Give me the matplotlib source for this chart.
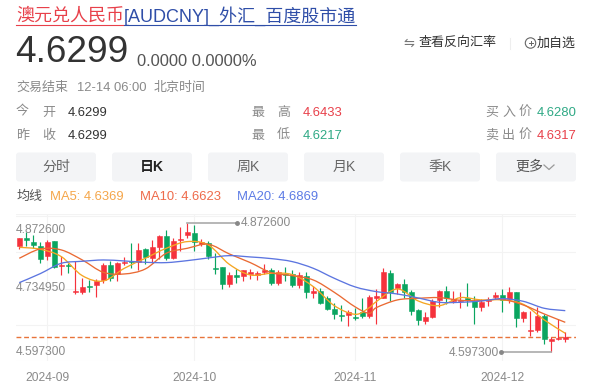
import matplotlib.pyplot as plt
import matplotlib.patches as patches
from matplotlib.path import Path

plt.rcParams["font.family"] = ["Liberation Sans", "Noto Sans CJK SC", "DejaVu Sans"]

# 日K data
open_ = [4.8232, 4.8394, 4.8324, 4.8232, 4.8026, 4.8338, 4.7800, 4.7828, 4.7247, 4.7247,
         4.7382, 4.7396, 4.7509, 4.7828, 4.7630, 4.7863, 4.7913, 4.7899, 4.8168, 4.7970,
         4.8217, 4.8451, 4.7970, 4.8352, 4.8465, 4.8501, 4.8274, 4.8295, 4.7771, 4.7778,
         4.7432, 4.7616, 4.7601, 4.7644, 4.7616, 4.7672, 4.7722, 4.7446, 4.7630, 4.7630,
         4.7403, 4.7594, 4.7240, 4.7269, 4.7120, 4.6893, 4.6766, 4.6766, 4.6716, 4.6837,
         4.6752, 4.7134, 4.7134, 4.7651, 4.7332, 4.7417, 4.7247, 4.6872, 4.6639, 4.6724,
         4.7085, 4.7276, 4.7063, 4.7063, 4.7120, 4.7063, 4.6943, 4.7063, 4.7155, 4.7191,
         4.7106, 4.7247, 4.6709, 4.6433, 4.6454, 4.6752, 4.6221, 4.6249, 4.6263]
close = [4.8394, 4.8359, 4.8253, 4.7963, 4.8324, 4.7793, 4.7828, 4.7814, 4.7276, 4.7368,
         4.7354, 4.7495, 4.7828, 4.7545, 4.7878, 4.7899, 4.7885, 4.8154, 4.7991, 4.8203,
         4.8451, 4.7984, 4.8338, 4.8380, 4.8522, 4.8324, 4.8309, 4.8019, 4.7750, 4.7424,
         4.7623, 4.7573, 4.7715, 4.7672, 4.7658, 4.7722, 4.7453, 4.7686, 4.7616, 4.7403,
         4.7616, 4.7262, 4.7269, 4.7014, 4.6901, 4.6780, 4.6745, 4.6837, 4.6695, 4.6752,
         4.7155, 4.7162, 4.7686, 4.7247, 4.7432, 4.7247, 4.6851, 4.6660, 4.6724, 4.7063,
         4.7276, 4.7120, 4.7106, 4.7092, 4.7085, 4.6943, 4.7035, 4.7085, 4.7184, 4.7092,
         4.7247, 4.6709, 4.6837, 4.6454, 4.6738, 4.6249, 4.6249, 4.6285, 4.6299]
high = [4.8409, 4.8522, 4.8465, 4.8309, 4.8352, 4.8338, 4.8026, 4.7863, 4.7913, 4.7545,
        4.7509, 4.7531, 4.7863, 4.7913, 4.7899, 4.8005, 4.8288, 4.8302, 4.8196, 4.8359,
        4.8465, 4.8571, 4.8394, 4.8628, 4.8726, 4.8673, 4.8380, 4.8338, 4.8076, 4.7778,
        4.7686, 4.7736, 4.7722, 4.7736, 4.7708, 4.7849, 4.7757, 4.7722, 4.7793, 4.7722,
        4.7686, 4.7686, 4.7389, 4.7332, 4.7170, 4.7014, 4.6978, 4.6872, 4.6908, 4.7120,
        4.7191, 4.7318, 4.7757, 4.7722, 4.7453, 4.7531, 4.7290, 4.6893, 4.6837, 4.7099,
        4.7297, 4.7375, 4.7276, 4.7247, 4.7453, 4.7170, 4.7099, 4.7155, 4.7262, 4.7311,
        4.7361, 4.7262, 4.6858, 4.6851, 4.6943, 4.6780, 4.6306, 4.6681, 4.6412]
low = [4.8161, 4.8239, 4.8182, 4.7878, 4.7934, 4.7771, 4.7616, 4.7651, 4.7205, 4.7205,
       4.7262, 4.7148, 4.7439, 4.7495, 4.7495, 4.7828, 4.7757, 4.7722, 4.7842, 4.7863,
       4.7955, 4.7934, 4.7955, 4.8125, 4.8394, 4.8125, 4.8239, 4.7948, 4.7630, 4.7325,
       4.7368, 4.7439, 4.7488, 4.7524, 4.7502, 4.7630, 4.7403, 4.7403, 4.7495, 4.7368,
       4.7347, 4.7134, 4.7134, 4.6993, 4.6872, 4.6674, 4.6639, 4.6532, 4.6660, 4.6709,
       4.6695, 4.6575, 4.7120, 4.7070, 4.7205, 4.7134, 4.6766, 4.6554, 4.6582, 4.6695,
       4.6943, 4.6993, 4.7014, 4.6908, 4.6964, 4.6575, 4.6858, 4.6957, 4.7106, 4.6837,
       4.7028, 4.6518, 4.6624, 4.6327, 4.6412, 4.6150, 4.5973, 4.6228, 4.6200]

# moving averages, read at every third candle or so
ma5_idx = [0, 3, 6, 9, 12, 15, 18, 21, 24, 27, 30, 33, 36, 39, 42, 45, 48, 50, 51, 54, 57, 60, 63, 66, 69, 72, 75, 78]
ma5 = [4.8203, 4.8161, 4.8005, 4.7601, 4.7488, 4.7757, 4.7970, 4.8182, 4.8324, 4.8253,
       4.7842, 4.7616, 4.7651, 4.7623, 4.7368, 4.6964, 4.6780, 4.6922, 4.7049, 4.7318,
       4.7063, 4.6964, 4.7134, 4.7085, 4.7085, 4.6993, 4.6660, 4.6377]
ma10_idx = [0, 3, 6, 9, 12, 15, 18, 21, 24, 27, 30, 33, 36, 39, 42, 45, 48, 50, 51, 54, 57, 60, 63, 66, 69, 72, 75, 78]
ma10 = [4.7970, 4.8168, 4.8147, 4.7934, 4.7672, 4.7637, 4.7743, 4.8076, 4.8182, 4.8267,
        4.8062, 4.7878, 4.7665, 4.7601, 4.7509, 4.7247, 4.6936, 4.6801, 4.6922, 4.7085,
        4.7120, 4.7134, 4.7078, 4.7070, 4.7099, 4.6978, 4.6787, 4.6610]
ma20_idx = [0, 3, 6, 9, 12, 15, 18, 21, 24, 27, 30, 33, 36, 39, 42, 45, 48, 51, 54, 57, 60, 63, 66, 69, 72, 75, 78]
ma20 = [4.7453, 4.7644, 4.7863, 4.7906, 4.7934, 4.7913, 4.7885, 4.7878, 4.7920, 4.7977,
        4.8026, 4.7998, 4.7963, 4.7899, 4.7757, 4.7545, 4.7361, 4.7262, 4.7212, 4.7127,
        4.7035, 4.7035, 4.7063, 4.7113, 4.7056, 4.6908, 4.6858]

date_idx = [4, 25, 48, 69]
date_labels = ["2024-09", "2024-10", "2024-11", "2024-12"]
y_labels = [4.8726, 4.73495, 4.5973]
last_price = 4.6299

RED = "#f5323c"
GREEN = "#0aa560"
GRAY = "#8a8a8a"

fig = plt.figure(figsize=(5.99, 3.90), dpi=100)

# page part, in pixel coordinates
page = fig.add_axes([0, 0, 1, 1])
page.set_xlim(0, 599)
page.set_ylim(390, 0)
page.axis("off")


def label(x, y, s, px=13, color="#333333", ha="left", **kw):
    page.text(x, y + 2.2, s, fontsize=px * 0.72, color=color, ha=ha, va="center", **kw)


def smooth_line(ax, xs, ys, color):
    # curve through the read points, the site draws smoothed lines too
    verts = [(xs[0], ys[0])]
    codes = [Path.MOVETO]
    for k in range(len(xs) - 1):
        x0, y0 = (xs[k - 1], ys[k - 1]) if k > 0 else (xs[k], ys[k])
        x1, y1 = xs[k], ys[k]
        x2, y2 = xs[k + 1], ys[k + 1]
        x3, y3 = (xs[k + 2], ys[k + 2]) if k + 2 < len(xs) else (x2, y2)
        verts.append((x1 + (x2 - x0) / 6, y1 + (y2 - y0) / 6))
        verts.append((x2 - (x3 - x1) / 6, y2 - (y3 - y1) / 6))
        verts.append((x2, y2))
        codes += [Path.CURVE4, Path.CURVE4, Path.CURVE4]
    ax.add_patch(patches.PathPatch(Path(verts, codes), fill=False, edgecolor=color, lw=0.95, zorder=4))


# 标题
label(16, 14, "澳元兑人民币", 18, "#e8404a")
label(124, 14, "[AUDCNY]_外汇_百度股市通", 18, "#2f4ea8")
page.plot([16, 123], [24.5, 24.5], color="#e8404a", lw=0.8)
page.plot([124, 356], [24.5, 24.5], color="#2f4ea8", lw=0.8)

label(15, 50, "4.6299", 37, "#333333")
label(137, 59.5, "0.0000 0.0000%", 16.5, "#555555")

label(403, 41, "⇋", 13, "#777777", family=["DejaVu Sans"])
label(419, 41, "查看反向汇率", 13, "#333333")
page.plot([510, 510], [38, 49], color="#eeeeee", lw=0.8)
page.add_patch(patches.Circle((530.5, 43), 5.2, fill=False, edgecolor="#666666", lw=0.8))
page.plot([528.5, 532.5], [43, 43], color="#666666", lw=0.7)
page.plot([530.5, 530.5], [41, 45], color="#666666", lw=0.7)
label(537, 41, "加自选", 13, "#333333")

label(16, 85.5, "交易结束", 13, GRAY)
label(77, 85.5, "12-14 06:00", 13, GRAY)
label(154, 85.5, "北京时间", 13, GRAY)

label(16, 110.5, "今", 13, GRAY)
label(42, 110.5, "开", 13, GRAY)
label(68, 110.5, "4.6299", 13, "#333333")
label(16, 133.5, "昨", 13, GRAY)
label(42, 133.5, "收", 13, GRAY)
label(68, 133.5, "4.6299", 13, "#333333")
label(251, 110.5, "最", 13, GRAY)
label(277, 110.5, "高", 13, GRAY)
label(303, 110.5, "4.6433", 13, "#e8404a")
label(251, 133.5, "最", 13, GRAY)
label(277, 133.5, "低", 13, GRAY)
label(303, 133.5, "4.6217", 13, "#2fa985")
label(485, 110.5, "买", 13, GRAY)
label(502, 110.5, "入", 13, GRAY)
label(519, 110.5, "价", 13, GRAY)
label(537, 110.5, "4.6280", 13, "#2fa985")
label(485, 133.5, "卖", 13, GRAY)
label(502, 133.5, "出", 13, GRAY)
label(519, 133.5, "价", 13, GRAY)
label(537, 133.5, "4.6317", 13, "#e8404a")

# 周期按钮
buttons = ["分时", "日K", "周K", "月K", "季K", "更多"]
for n, name in enumerate(buttons):
    x = 16 + 96 * n
    page.add_patch(patches.FancyBboxPatch(
        (x + 3, 155.5), 74, 23,
        boxstyle="round,pad=3", facecolor="#f3f4f6", edgecolor="none"))
    if name == "日K":
        label(x + 40, 165, name, 14, "#222222", ha="center", fontweight="bold")
    elif name == "更多":
        label(x + 33, 165, name, 14, "#555555", ha="center")
    else:
        label(x + 40, 165, name, 14, "#666666", ha="center")
page.plot([544, 549, 554], [165, 169.5, 165], color="#999999", lw=0.9)

label(16, 195, "均线", 13, "#555555")
label(50, 195, "MA5: 4.6369", 13, "#f5a64a")
label(140, 195, "MA10: 4.6623", 13, "#ee6a4a")
label(237, 195, "MA20: 4.6869", 13, "#5c7be5")

# K线图
ax = fig.add_axes([16 / 599, (390 - 361) / 390, 560 / 599, 147 / 390])
ax.patch.set_alpha(0)
ax.set_xlim(-0.47, 79.53)
ax.set_ylim(4.5789, 4.8910)
for s in ax.spines.values():
    s.set_visible(False)
ax.set_xticks(date_idx)
ax.set_xticklabels(date_labels, fontsize=8.64, color=GRAY)
ax.set_yticks([4.5789, 4.6556, 4.7327, 4.8098, 4.8868, 4.8910])
ax.set_yticklabels([])
ax.tick_params(length=0, pad=8)
ax.grid(True, color="#f3f3f3", lw=0.8)
ax.set_axisbelow(True)

for n, txt_y in zip(range(3), [4.8565, 4.7335, 4.5985]):
    ax.text(-0.47, txt_y, "%.6f" % y_labels[n], fontsize=8.64, color=GRAY, ha="left", va="center")

ax.axhline(last_price, color="#e8743b", lw=1, ls=(0, (3.5, 2)), zorder=1)

for i in range(len(close)):
    up = close[i] >= open_[i]
    c = RED if up else GREEN
    ax.vlines(i, low[i], high[i], color=c, lw=0.85, zorder=2)
    bottom = min(open_[i], close[i])
    ax.bar(i, abs(close[i] - open_[i]), bottom=bottom, width=0.68, color=c,
           edgecolor=c, linewidth=0.4, zorder=3)

smooth_line(ax, ma5_idx, ma5, "#f5a623")
smooth_line(ax, ma10_idx, ma10, "#ea6a33")
smooth_line(ax, ma20_idx, ma20, "#5c75e0")

# 最高 / 最低 markers
hi_i = high.index(max(high))
lo_i = low.index(min(low))
ax.plot([hi_i, hi_i + 7.1], [high[hi_i], high[hi_i]], color="#aaaaaa", lw=1.2, zorder=5)
ax.plot([hi_i + 7.1], [high[hi_i]], "o", color="#888888", ms=2.5, zorder=5)
ax.text(hi_i + 7.6, high[hi_i] - 0.0015, "%.6f" % high[hi_i], fontsize=8.64, color=GRAY, va="center")
ax.plot([lo_i, lo_i - 7.2], [low[lo_i], low[lo_i]], color="#aaaaaa", lw=1.2, zorder=5)
ax.plot([lo_i - 7.2], [low[lo_i]], "o", color="#888888", ms=2.5, zorder=5)
ax.text(lo_i - 7.5, low[lo_i] - 0.0015, "%.6f" % low[lo_i], fontsize=8.64, color=GRAY, va="center", ha="right")

fig.savefig("out.png", dpi=100)
